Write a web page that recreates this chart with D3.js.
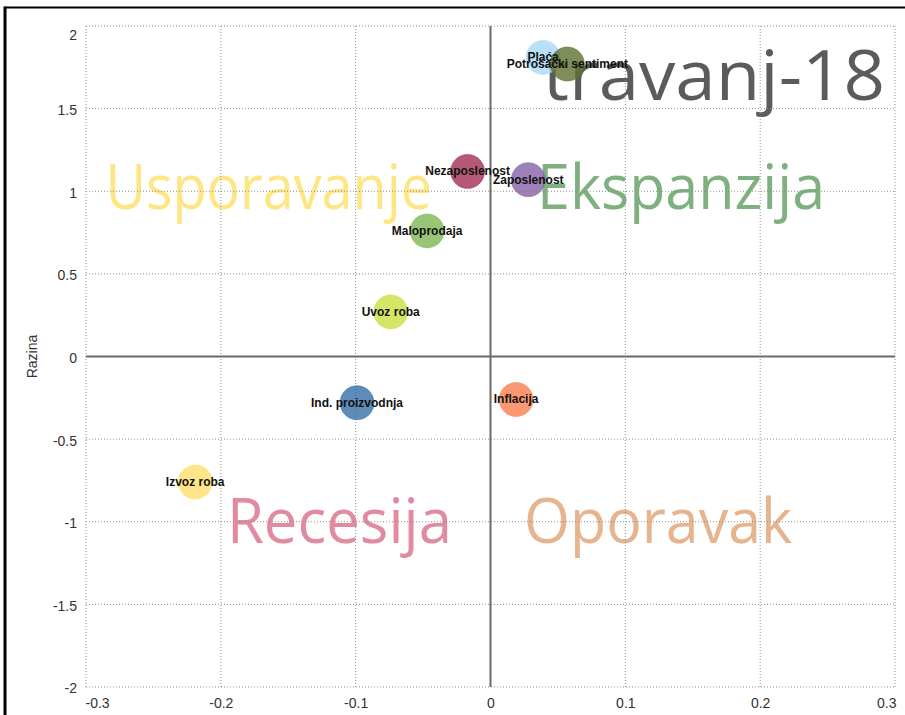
<!DOCTYPE html>
<html>
<head>
<meta charset="utf-8">
<script src="https://cdn.jsdelivr.net/npm/d3@7"></script>
<style>
  body { margin: 0; background: #fff; }
  svg { display: block; }
</style>
</head>
<body>
<div id="chart"></div>
<script>
// Chart data
const indicators = ["Plaća", "Potrošački sentiment", "Nezaposlenost", "Zaposlenost", "Maloprodaja",
                    "Uvoz roba", "Ind. proizvodnja", "Inflacija", "Izvoz roba"];
const changeVals = [0.039, 0.057, -0.017, 0.028, -0.047, -0.074, -0.099, 0.019, -0.219];
const levelVals = [1.81, 1.77, 1.12, 1.07, 0.76, 0.27, -0.28, -0.26, -0.76];
const xTicks = [-0.3, -0.2, -0.1, 0, 0.1, 0.2, 0.3];
const yTicks = [-2, -1.5, -1, -0.5, 0, 0.5, 1, 1.5, 2];
const quadrantNames = ["Usporavanje", "Ekspanzija", "Recesija", "Oporavak"];
const periodLabel = "travanj-18";
const yTitle = "Razina";

const bubbleColors = ["#a9d7f6", "#5f7030", "#a32f55", "#8562a6", "#80b755",
                      "#cadf3e", "#356fa8", "#fb7e4e", "#ffdf6a"];

const width = 905;
const height = 715;
const margin = { top: 26, right: 10, bottom: 28, left: 86 };

const svg = d3.select("#chart")
    .append("svg")
    .attr("width", width)
    .attr("height", height);

// Scales
const xScale = d3.scaleLinear()
    .domain([-0.3, 0.3])
    .range([margin.left, width - margin.right]);

const yScale = d3.scaleLinear()
    .domain([-2, 2])
    .range([height - margin.bottom, margin.top]);

const colorScale = d3.scaleOrdinal()
    .domain(indicators)
    .range(bubbleColors);

// Outer frame (top and left edges only, as in the screenshot)
svg.append("line")
    .attr("x1", 5).attr("x2", width)
    .attr("y1", 7.5).attr("y2", 7.5)
    .attr("stroke", "#000").attr("stroke-width", 2);
svg.append("line")
    .attr("x1", 5).attr("x2", 5)
    .attr("y1", 6.5).attr("y2", height)
    .attr("stroke", "#000").attr("stroke-width", 3);

// Big quadrant captions, sitting behind everything else
const fontBig = "'Open Sans', 'Noto Sans', sans-serif";
const quadrants = [
    { text: quadrantNames[0], x0: -0.2856, x1: -0.0434, y: 0.89, color: "#ffe684" },
    { text: quadrantNames[1], x0: 0.0345, x1: 0.2481, y: 0.89, color: "#7fb07f" },
    { text: quadrantNames[2], x0: -0.1955, x1: -0.0286, y: -1.13, color: "#e28a9f" },
    { text: quadrantNames[3], x0: 0.0249, x1: 0.2237, y: -1.13, color: "#e6b48f" }
];

svg.append("g").selectAll("text")
    .data(quadrants)
    .enter()
    .append("text")
    .attr("x", d => xScale(d.x0))
    .attr("y", d => yScale(d.y))
    .attr("textLength", d => xScale(d.x1) - xScale(d.x0))
    .attr("lengthAdjust", "spacingAndGlyphs")
    .style("font-family", fontBig)
    .style("font-size", "62px")
    .style("fill", d => d.color)
    .text(d => d.text);

svg.append("text")
    .attr("x", xScale(0.039))
    .attr("y", yScale(1.55))
    .attr("textLength", xScale(0.2927) - xScale(0.039))
    .attr("lengthAdjust", "spacingAndGlyphs")
    .style("font-family", fontBig)
    .style("font-size", "70px")
    .style("fill", "#5b5b5b")
    .text(periodLabel);

// Gridlines
const grid = svg.append("g");

grid.selectAll(".vgrid")
    .data(xTicks)
    .enter()
    .append("line")
    .attr("x1", d => xScale(d)).attr("x2", d => xScale(d))
    .attr("y1", yScale(2)).attr("y2", yScale(-2))
    .attr("stroke", "#8c8c8c")
    .attr("stroke-width", 1)
    .attr("stroke-dasharray", "1,2");

grid.selectAll(".hgrid")
    .data(yTicks)
    .enter()
    .append("line")
    .attr("x1", xScale(-0.3)).attr("x2", xScale(0.3))
    .attr("y1", d => yScale(d)).attr("y2", d => yScale(d))
    .attr("stroke", "#8c8c8c")
    .attr("stroke-width", 1)
    .attr("stroke-dasharray", "1,2");

// Zero axes
svg.append("line")
    .attr("x1", xScale(-0.3)).attr("x2", xScale(0.3))
    .attr("y1", yScale(0)).attr("y2", yScale(0))
    .attr("stroke", "#6a6a6a").attr("stroke-width", 2);
svg.append("line")
    .attr("x1", xScale(0)).attr("x2", xScale(0))
    .attr("y1", yScale(2)).attr("y2", yScale(-2))
    .attr("stroke", "#6a6a6a").attr("stroke-width", 2);

// Axes (labels only, no domain or tick marks); plain hyphen for minus
const fmt = d => String(+d.toFixed(1));

const xAxis = svg.append("g")
    .attr("transform", `translate(0, ${yScale(-2)})`)
    .call(d3.axisBottom(xScale).tickValues(xTicks).tickSize(0).tickPadding(11).tickFormat(fmt));

const yAxis = svg.append("g")
    .attr("transform", `translate(${xScale(-0.3) - 9}, 0)`)
    .call(d3.axisLeft(yScale).tickValues(yTicks).tickSize(0).tickPadding(0).tickFormat(fmt));

[xAxis, yAxis].forEach(ax => {
    ax.select(".domain").remove();
    ax.selectAll("text")
        .style("font-family", "'Liberation Sans', Arial, sans-serif")
        .style("font-size", "14px")
        .style("fill", "#333");
});
// top label sits a bit lower than its gridline, the others are centred
yAxis.selectAll("text").attr("dy", d => d === 2 ? "0.95em" : "0.42em");
// end labels of the x axis are pulled inside the plot
xAxis.selectAll("text")
    .style("text-anchor", (d, i) => i === 0 ? "start" : (i === xTicks.length - 1 ? "end" : "middle"))
    .attr("x", (d, i) => i === 0 ? -1 : (i === xTicks.length - 1 ? 1 : 0));

svg.append("text")
    .attr("transform", "rotate(-90)")
    .attr("x", -yScale(0))
    .attr("y", 37)
    .style("text-anchor", "middle")
    .style("font-family", "'Liberation Sans', Arial, sans-serif")
    .style("font-size", "14px")
    .style("fill", "#333")
    .text(yTitle);

// Bubbles
const bubbles = indicators.map((name, i) => ({ name, x: changeVals[i], y: levelVals[i] }));

svg.append("g").selectAll("circle")
    .data(bubbles)
    .enter()
    .append("circle")
    .attr("cx", d => xScale(d.x))
    .attr("cy", d => yScale(d.y))
    .attr("r", 17)
    .attr("fill", d => colorScale(d.name))
    .attr("fill-opacity", 0.8)
    .attr("stroke", d => colorScale(d.name))
    .attr("stroke-opacity", 0.5);

svg.append("g").selectAll("text")
    .data(bubbles)
    .enter()
    .append("text")
    .attr("x", d => xScale(d.x))
    .attr("y", d => yScale(d.y) + 4)
    .style("text-anchor", "middle")
    .style("font-family", "'Liberation Sans Narrow', 'Liberation Sans', Arial, sans-serif")
    .style("font-size", "12px")
    .style("font-weight", "bold")
    .style("fill", "#111")
    .text(d => d.name);
</script>
</body>
</html>
